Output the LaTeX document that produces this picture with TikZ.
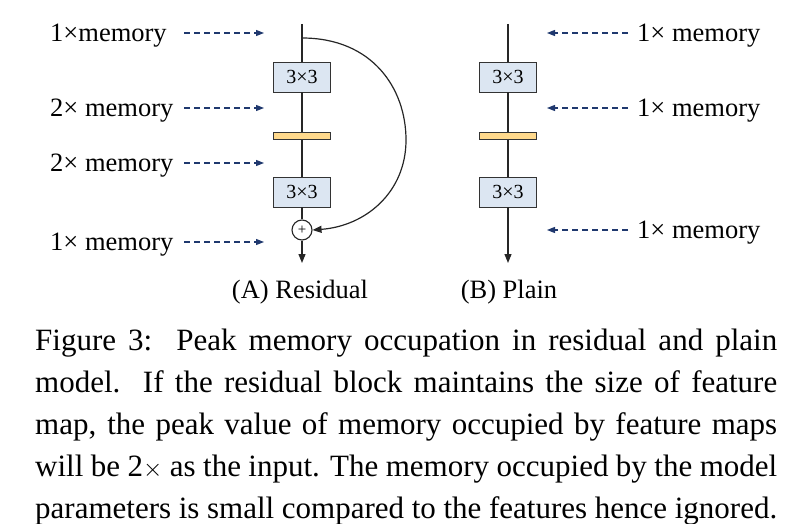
\documentclass[tikz,border=0pt]{standalone}
\usepackage{fontspec}
\setmainfont{Liberation Serif}
\usetikzlibrary{arrows.meta}
\definecolor{navy}{RGB}{31,56,110}
\definecolor{boxblue}{RGB}{220,230,242}
\definecolor{baryellow}{RGB}{255,217,140}
\begin{document}
\begin{tikzpicture}[x=1pt,y=-1pt,
  conv/.style={draw=black!80, fill=boxblue, minimum width=57pt, minimum height=30pt, inner sep=0pt, font=\fontsize{20}{24}\selectfont, line width=0.9pt},
  bnbar/.style={draw=black!80, fill=baryellow, minimum width=57pt, minimum height=7pt, inner sep=0pt, line width=0.9pt},
  lbl/.style={font=\fontsize{26.5}{30}\selectfont, inner sep=0pt},
  mem/.style={navy, dash pattern=on 6pt off 4pt, line width=1.3pt, -{Triangle[length=8pt,width=6pt]}},
  flow/.style={line width=1.2pt, black!85},
  tip/.style={-{Triangle[length=9pt,width=7pt]}}]
\useasboundingbox (0,0) rectangle (800,524);

% ---------- (A) Residual ----------
\coordinate (atop) at (302,24);
\coordinate (askip) at (302,38);
\node[conv] (a1) at (302,77) {3×3};
\node[bnbar] (ab) at (302,136) {};
\node[conv] (a2) at (302,192) {3×3};
\node[circle, draw=black!85, line width=1.1pt, fill=white, minimum size=20pt, inner sep=0pt, font=\fontsize{15}{15}\selectfont] (aplus) at (302,230) {+};
\coordinate (aend) at (302,263);
\draw[flow] (atop) -- (a1) (a1) -- (ab) (ab) -- (a2) (a2) -- (aplus);
\draw[flow, tip] (aplus) -- (aend);
\draw[flow, tip] (askip) .. controls (372,38) and (406,88) .. (406,140)
  .. controls (406,192) and (366,226) .. (aplus.east);

% left memory labels
\coordinate (la1) at (184,33);  \coordinate (lb1) at (264,33);
\coordinate (la2) at (184,108); \coordinate (lb2) at (264,108);
\coordinate (la3) at (184,163); \coordinate (lb3) at (264,163);
\coordinate (la4) at (184,242); \coordinate (lb4) at (264,242);
\node[lbl, anchor=west] (m1) at (50,36) {1×memory};
\node[lbl, anchor=west] (m2) at (50,111) {2× memory};
\node[lbl, anchor=west] (m3) at (50,166) {2× memory};
\node[lbl, anchor=west] (m4) at (50,245) {1× memory};
\draw[mem] (la1) -- (lb1);
\draw[mem] (la2) -- (lb2);
\draw[mem] (la3) -- (lb3);
\draw[mem] (la4) -- (lb4);

% ---------- (B) Plain ----------
\coordinate (btop) at (508,24);
\node[conv] (b1) at (508,77) {3×3};
\node[bnbar] (bb) at (508,136) {};
\node[conv] (b2) at (508,192) {3×3};
\coordinate (bend) at (508,263);
\draw[flow] (btop) -- (b1) (b1) -- (bb) (bb) -- (b2);
\draw[flow, tip] (b2) -- (bend);

\coordinate (ra1) at (628,33);  \coordinate (rb1) at (547,33);
\coordinate (ra2) at (628,108); \coordinate (rb2) at (547,108);
\coordinate (ra3) at (628,230); \coordinate (rb3) at (547,230);
\node[lbl, anchor=west] (n1) at (637,36) {1× memory};
\node[lbl, anchor=west] (n2) at (637,111) {1× memory};
\node[lbl, anchor=west] (n3) at (637,233) {1× memory};
\draw[mem] (ra1) -- (rb1);
\draw[mem] (ra2) -- (rb2);
\draw[mem] (ra3) -- (rb3);

% sub captions
\node[lbl] (capa) at (300,292) {(A) Residual};
\node[lbl] (capb) at (509,292) {(B) Plain};

% figure caption
\node[inner sep=0pt, anchor=north west] (cap) at (35,329) {\parbox{742pt}{\fontsize{31}{42}\selectfont\parfillskip=0pt
Figure 3:\ \ Peak memory occupation in residual and plain\linebreak
model.\ \ If the residual block maintains the size of feature\linebreak
map, the peak value of memory occupied by feature maps\linebreak
will be 2$\times$ as the input. The memory occupied by the model\linebreak
parameters is small compared to the features hence ignored.}};
\end{tikzpicture}
\end{document}
